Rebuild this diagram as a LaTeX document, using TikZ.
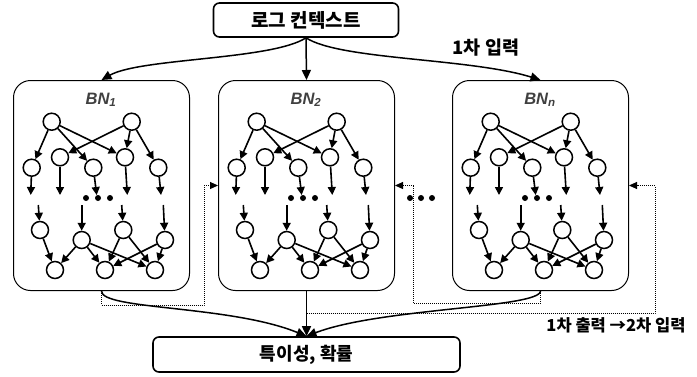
\documentclass[tikz,border=0pt]{standalone}
\usepackage{fontspec}
\setmainfont{Liberation Sans}
\newfontfamily\kr{Noto Sans CJK KR}
\usetikzlibrary{arrows.meta}
\tikzset{
  bnode/.style={circle,draw,line width=1.5pt,minimum size=17pt,inner sep=0pt},
  gedge/.style={line width=1.6pt,-{Triangle[length=8pt,width=8pt]}},
  bnbox/.style={draw,rounded corners=17pt,line width=1pt,minimum width=176pt,minimum height=210pt,inner sep=0pt,anchor=north west},
  bnlab/.style={font=\bfseries\itshape\fontsize{16.5}{18}\selectfont,text=black!75},
  bdot/.style={circle,fill,inner sep=0pt,minimum size=6pt},
  fb/.style={densely dotted,line width=1pt,-{Triangle[length=8pt,width=7pt]}},
  flow/.style={line width=1.5pt,-{Triangle[length=10pt,width=9pt]}},
  kbox/.style={draw,rounded corners=6pt,line width=1.6pt,inner sep=0pt,font=\kr\bfseries\fontsize{#1}{#1}\selectfont},
  ktext/.style={font=\kr\bfseries\fontsize{#1}{#1}\selectfont,inner sep=0pt},
  bnet/.pic={
    \node[bnbox] (-box) at (0,0) {};
    \node[bnlab] (-lab) at (88,20) {BN\textsubscript{#1}};
    \node[bnode] (-A) at (38.7,41.7) {};
    \node[bnode] (-B) at (118.7,41.7) {};
    \node[bnode] (-C1) at (18.7,87.7) {};
    \node[bnode] (-C2) at (47,77.3) {};
    \node[bnode] (-C3) at (80.3,87.7) {};
    \node[bnode] (-C4) at (112,77.3) {};
    \node[bnode] (-C5) at (145.3,87.7) {};
    \node[bnode] (-D1) at (27,150) {};
    \node[bnode] (-D2) at (68.7,160) {};
    \node[bnode] (-D3) at (110.3,150) {};
    \node[bnode] (-D4) at (152,160) {};
    \node[bnode] (-E1) at (42,190) {};
    \node[bnode] (-E2) at (92,190) {};
    \node[bnode] (-E3) at (142,190) {};
    \coordinate (-s1) at (17.7,115);
    \coordinate (-s2) at (47,115);
    \coordinate (-s3) at (83.7,115);
    \coordinate (-s4) at (114.3,115);
    \coordinate (-s5) at (148,115);
    \coordinate (-t1) at (25.3,125);
    \coordinate (-t2) at (68.7,125);
    \coordinate (-t3) at (108.7,125);
    \coordinate (-t4) at (150.3,125);
    \node[bdot] (-d1) at (73,118) {};
    \node[bdot] (-d2) at (85,118) {};
    \node[bdot] (-d3) at (97,118) {};
    \draw[gedge] (-A) -- (-C1);
    \draw[gedge] (-A) -- (-C3);
    \draw[gedge] (-A) -- (-C4);
    \draw[gedge] (-B) -- (-C2);
    \draw[gedge] (-B) -- (-C4);
    \draw[gedge] (-B) -- (-C5);
    \draw[gedge] (-C1) -- (-s1);
    \draw[gedge] (-C2) -- (-s2);
    \draw[gedge] (-C3) -- (-s3);
    \draw[gedge] (-C4) -- (-s4);
    \draw[gedge] (-C5) -- (-s5);
    \draw[gedge] (-t1) -- (-D1);
    \draw[gedge] (-t2) -- (-D2);
    \draw[gedge] (-t3) -- (-D3);
    \draw[gedge] (-t4) -- (-D4);
    \draw[gedge] (-D1) -- (-E1);
    \draw[gedge] (-D2) -- (-E1);
    \draw[gedge] (-D2) -- (-E2);
    \draw[gedge] (-D2) -- (-E3);
    \draw[gedge] (-D3) -- (-E2);
    \draw[gedge] (-D3) -- (-E3);
    \draw[gedge] (-D4) -- (-E2);
    \draw[gedge] (-D4) -- (-E3);
  }
}
\begin{document}
\begin{tikzpicture}[x=1pt,y=-1pt]
  \useasboundingbox (0,0) rectangle (697,376);
  \node[kbox=19,minimum width=185pt,minimum height=34pt] (top) at (306,20) {로그 컨텍스트};
  \node[kbox=18,minimum width=307pt,minimum height=35pt] (bot) at (306.5,354.5) {특이성, 확률};
  \pic (bn1) at (13,80) {bnet={1}};
  \pic (bn2) at (218,80) {bnet={2}};
  \pic (bnn) at (452,80) {bnet={\textit{n}}};
  \node[bdot] (m1) at (410,198) {};
  \node[bdot] (m2) at (421,198) {};
  \node[bdot] (m3) at (432,198) {};
  \node[ktext=18.5] (in1) at (486,48) {1차 입력};
  \node[ktext=16.5] (out1) at (616,325) {1차 출력 →2차 입력};
  % inputs
  \draw[flow] (top.south) .. controls (272,60) and (140,58) .. (bn1-box.north);
  \draw[flow] (top.south) -- (bn2-box.north);
  \draw[flow] (top.south) .. controls (340,60) and (470,58) .. (bnn-box.north);
  % outputs
  \draw[flow] (bn1-box.south) .. controls (101,310) and (230,305) .. (bot.north);
  \draw[flow] (bn2-box.south) -- (bot.north);
  \draw[flow] (bnn-box.south) .. controls (540,308) and (380,308) .. (bot.north);
  % feedback
  \coordinate (f1) at (204,305);
  \coordinate (f2) at (413,303);
  \coordinate (f3) at (655,313);
  \draw[fb] (bn1-box.south) |- (f1) |- (bn2-box.west);
  \draw[fb] (bnn-box.south) |- (f2) |- (bn2-box.east);
  \draw[fb] (bn2-box.south) |- (f3) |- (bnn-box.east);
\end{tikzpicture}
\end{document}
